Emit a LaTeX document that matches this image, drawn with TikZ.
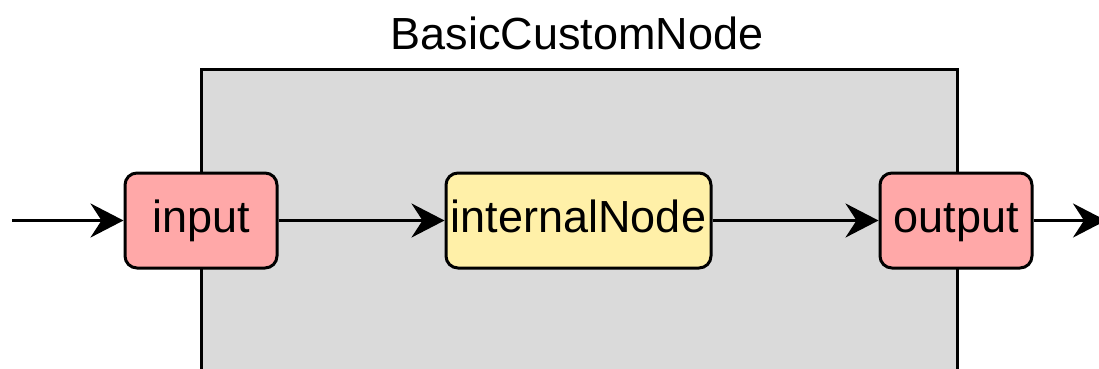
\documentclass[tikz,border=0pt]{standalone}
\usepackage{fontspec}
\setmainfont{Liberation Sans}
\usetikzlibrary{arrows.meta}
\definecolor{portred}{RGB}{255,168,168}
\definecolor{coreyellow}{RGB}{255,240,168}
\definecolor{panelgray}{RGB}{218,218,218}
\begin{document}
\begin{tikzpicture}[x=1pt,y=-1pt,
  label font/.style={font=\fontsize{45}{54}\selectfont},
  box/.style={draw, line width=3pt, rounded corners=12pt, inner sep=0pt,
    minimum height=95pt, text height=32.5pt, text depth=9.5pt, label font},
  port/.style={box, fill=portred, minimum width=152pt},
  core/.style={box, fill=coreyellow, minimum width=265pt},
  flow/.style={line width=3pt, -{Stealth[length=33pt,width=34pt,inset=11pt]}}]
  \useasboundingbox (0,0) rectangle (1099,369);
  \clip (0,0) rectangle (1099,369);

  % container panel, running past the lower edge
  \draw[fill=panelgray, line width=3pt] (201,69) rectangle (957,420);
  \node[label font] (title) at (577,33) {BasicCustomNode};

  % nodes inside the panel
  \node[port] (in)  at (201,220.5) {input};
  \node[core] (mid) at (578.5,220.5) {internalNode};
  \node[port] (out) at (956,220.5) {output};

  % loose ends of the outer connectors
  \coordinate (src)  at (12,220.5);
  \coordinate (sink) at (1106,220.5);

  \draw[flow] (src) -- (in);
  \draw[flow] (in) -- (mid);
  \draw[flow] (mid) -- (out);
  \draw[flow] (out) -- (sink);
\end{tikzpicture}
\end{document}
